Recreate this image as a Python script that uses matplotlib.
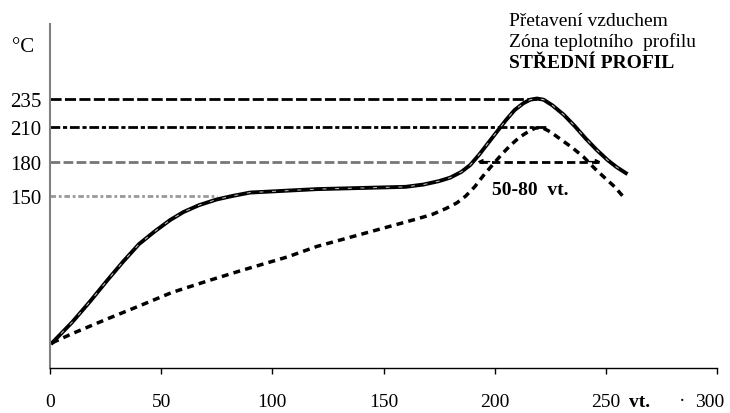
import numpy as np
import matplotlib.pyplot as plt
from matplotlib.transforms import ScaledTranslation

plt.rcParams['font.family'] = ['Liberation Serif', 'DejaVu Serif']

# profile (time in s, temperature in C)
solid_t = [1, 5, 10, 18, 26, 33, 40, 47, 54, 60, 67, 75, 82, 90, 100, 110, 120, 140, 160, 168,
           175, 180, 185, 189, 193, 197, 201, 205, 209, 213, 216, 219, 222, 226, 231, 236, 241,
           246, 251, 255, 259]
solid_T = [22, 30, 40, 58, 77, 93, 108, 119, 129, 136, 142, 147, 150, 153, 154, 155, 156, 157, 158, 160,
           163, 166, 171, 177, 186, 196, 206, 216, 225, 231, 234, 235, 234, 229, 221, 211, 200,
           190, 181, 175, 170]

dash_t = [1, 10, 26, 40, 55, 71, 86, 107, 120, 150, 165, 172, 178, 183, 187, 191, 195, 199, 203,
          207, 211, 215, 218, 221, 225, 230, 235, 240, 245, 250, 254, 258]
dash_T = [22, 30, 43, 54, 66, 76, 85, 97, 106, 122, 130, 134, 139, 144, 150, 158, 168, 177, 186,
          194, 201, 206, 209, 210, 206, 199, 192, 184, 174, 165, 158, 149]

levels = [235, 210, 180, 150]
level_ends = [219, 224, 187, 75]
level_colors = ['black', 'black', '#777777', '#999999']
level_dashes = [(4, 1.2), (3.5, 1, 1.5, 1), (3.5, 1.2), (2, 1, 1, 1)]

xticks = [0, 50, 100, 150, 200, 250, 300]
xtick_labels = ['0', '50', '100', '150', '200', '250', '300']
yticks = [150, 180, 210, 235]

fig = plt.figure(figsize=(7.3, 4.14), dpi=100)
ax = fig.add_axes([50/730, 1-369/414, 667/730, 344/414])

for lev, end, c, d in zip(levels, level_ends, level_colors, level_dashes):
    ax.hlines(lev, 0, end, colors=c, linewidth=2, linestyles=[(0, d)])

# 50-80 s span at 180
ax.hlines(180, 193, 247, colors='black', linewidth=2, linestyles=[(0, (3, 1.5))])
ax.annotate('', xy=(191, 180), xytext=(199, 180),
            arrowprops=dict(arrowstyle='-|>', color='black', lw=1, mutation_scale=7))
ax.annotate('', xy=(249, 180), xytext=(241, 180),
            arrowprops=dict(arrowstyle='-|>', color='black', lw=1, mutation_scale=7))

ax.plot(solid_t, solid_T, color='black', linewidth=2.8, solid_joinstyle='round')
ax.plot(solid_t, solid_T, color='#c8c8c8', linewidth=0.7, dashes=(4, 9))
ax.plot(dash_t, dash_T, color='black', linewidth=2.5, dashes=(2, 1.5))

ax.text(199, 156, '50-80  vt.', fontsize=14, fontweight='bold', va='center')

ax.set_xlim(0, 300)
ax.set_ylim(0, 300)
ax.spines['top'].set_visible(False)
ax.spines['right'].set_visible(False)
ax.spines['left'].set_color('#808080')
ax.spines['left'].set_linewidth(1.5)
ax.spines['bottom'].set_linewidth(1)

ax.set_xticks(xticks)
ax.set_xticklabels(xtick_labels)
ax.set_yticks(yticks)
ax.tick_params(axis='x', direction='out', length=4, width=1, pad=14, labelsize=14)
ax.tick_params(axis='y', length=0, pad=6, labelsize=15)

last = ax.get_xticklabels()[-1]
last.set_transform(last.get_transform() + ScaledTranslation(-7/100, 0, fig.dpi_scale_trans))

fig.text(640/730, 1-403/414, 'vt.', fontsize=14, fontweight='bold', ha='center', va='center')
fig.text(682/730, 1-402/414, '·', fontsize=14, ha='center', va='center')
fig.text(23/730, 1-48/414, '°C', fontsize=15, ha='center', va='center')

title_lines = ['Přetavení vzduchem', 'Zóna teplotního  profilu', 'STŘEDNÍ PROFIL']
for i, line in enumerate(title_lines):
    fig.text(509/730, 1-(22+20.5*i)/414, line, fontsize=14, va='center',
             fontweight='bold' if i == 2 else 'normal')

fig.savefig('out.png', dpi=100)
